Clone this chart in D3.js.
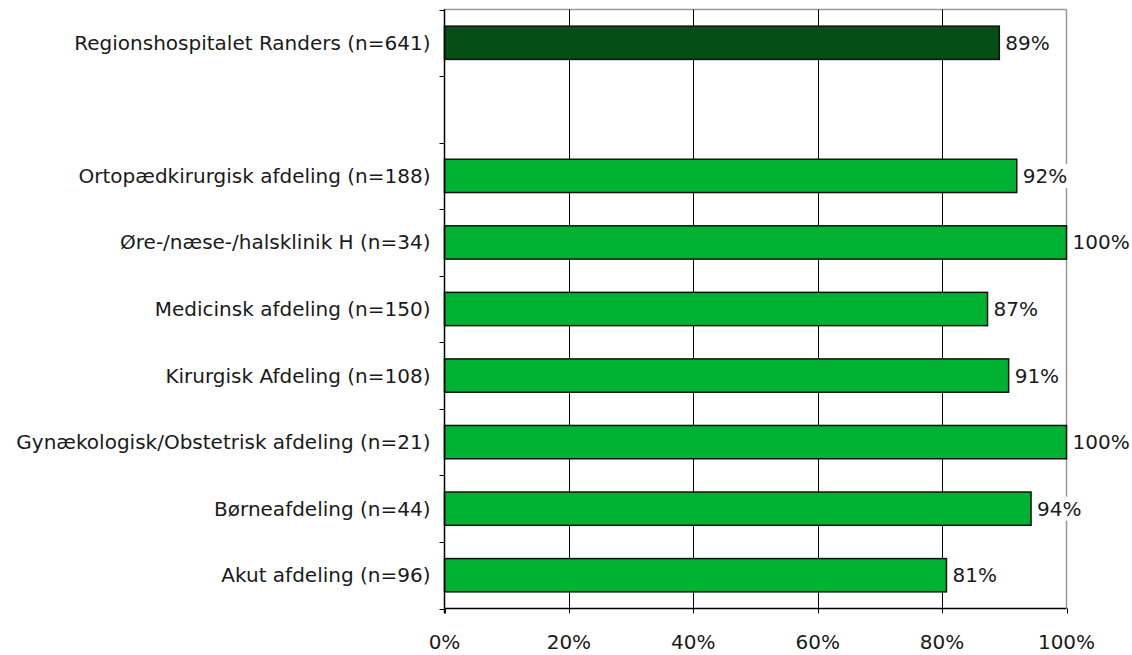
<!DOCTYPE html>
<html><head><meta charset="utf-8">
<script src="https://cdn.jsdelivr.net/npm/d3@7"></script>
<style>body{margin:0;background:#fff}svg{display:block}text{font-family:"DejaVu Sans",sans-serif;fill:#1a1a1a}</style>
</head><body><svg id="c" width="1132" height="655"></svg>
<script>
const categories = ["Regionshospitalet Randers (n=641)", "", "Ortopædkirurgisk afdeling (n=188)", "Øre-/næse-/halsklinik H (n=34)", "Medicinsk afdeling (n=150)", "Kirurgisk Afdeling (n=108)", "Gynækologisk/Obstetrisk afdeling (n=21)", "Børneafdeling (n=44)", "Akut afdeling (n=96)"];
const values = [89.2, null, 92.0, 100, 87.3, 90.7, 100, 94.3, 80.7];
const valueLabels = ["89%", "", "92%", "100%", "87%", "91%", "100%", "94%", "81%"];
const tickValues = [0, 20, 40, 60, 80, 100];
const tickLabels = ["0%", "20%", "40%", "60%", "80%", "100%"];
const isTotal = [true, false, false, false, false, false, false, false, false];

const svg = d3.select("#c");
const L = 444.5, R = 1066.5, T = 9.5, B = 608.5;
const x = d3.scaleLinear().domain([0, 100]).range([L, R]);
const keys = categories.map((c, i) => i);
const y = d3.scaleBand().domain(keys).range([T, B]).paddingInner(0.5).paddingOuter(0.25);
const yOuter = d3.scaleBand().domain(keys).range([T, B]);
const FS = "20px";

// top and right border (gray)
svg.append("line").attr("x1", L).attr("x2", R).attr("y1", T).attr("y2", T).attr("stroke", "#999").attr("stroke-width", 1.5);
svg.append("line").attr("x1", R).attr("x2", R).attr("y1", T).attr("y2", B).attr("stroke", "#999").attr("stroke-width", 1.5);

// gridlines
svg.append("g").selectAll("line").data(tickValues.filter(v => v > 0 && v < 100)).join("line")
  .attr("x1", d => Math.round(x(d)) + 0.5).attr("x2", d => Math.round(x(d)) + 0.5)
  .attr("y1", T).attr("y2", B).attr("stroke", "#000").attr("stroke-width", 1);

// bars
const rows = keys.filter(i => values[i] != null);
svg.append("g").selectAll("rect").data(rows).join("rect")
  .attr("x", x(0)).attr("y", i => y(i))
  .attr("width", i => x(values[i]) - x(0)).attr("height", y.bandwidth())
  .attr("fill", i => isTotal[i] ? "#034f16" : "#00b232")
  .attr("stroke", "#111").attr("stroke-width", 1.5);

// value labels with white background
const vl = svg.append("g").selectAll("g").data(rows).join("g")
  .attr("transform", i => `translate(${x(values[i]) + 5},${y(i) + y.bandwidth() / 2})`);
const bg = vl.append("rect").attr("x", 0).attr("y", -12).attr("height", 24).attr("fill", "#fff");
const vt = vl.append("text").attr("x", 1).attr("dy", "0.35em").style("font-size", FS).text(i => valueLabels[i]);
vt.each(function (d) {
  const w = this.getComputedTextLength();
  d3.select(this.parentNode).select("rect").attr("width", w + 2);
});

// left axis
const yAxis = svg.append("g");
yAxis.append("line").attr("x1", L).attr("x2", L).attr("y1", T - 0.5).attr("y2", B + 5).attr("stroke", "#000").attr("stroke-width", 1.5);
const bounds = keys.map(i => yOuter(i)).concat([B]);
yAxis.selectAll("line.t").data(bounds).join("line").attr("class", "t")
  .attr("x1", L - 5).attr("x2", L).attr("y1", d => Math.round(d) + 0.5).attr("y2", d => Math.round(d) + 0.5)
  .attr("stroke", "#000").attr("stroke-width", 1);
yAxis.selectAll("text").data(keys).join("text")
  .attr("x", L - 14).attr("y", i => y(i) + y.bandwidth() / 2).attr("dy", "0.35em")
  .attr("text-anchor", "end").style("font-size", FS).text(i => categories[i]);

// bottom axis
const xAxis = svg.append("g");
xAxis.append("line").attr("x1", L).attr("x2", R).attr("y1", B).attr("y2", B).attr("stroke", "#000").attr("stroke-width", 1.5);
xAxis.selectAll("line.t").data(tickValues).join("line").attr("class", "t")
  .attr("x1", d => Math.round(x(d)) + 0.5).attr("x2", d => Math.round(x(d)) + 0.5)
  .attr("y1", B).attr("y2", B + 5).attr("stroke", "#000").attr("stroke-width", 1);
xAxis.selectAll("text").data(tickValues).join("text")
  .attr("x", d => x(d)).attr("y", 642).attr("dy", "0.35em").attr("text-anchor", "middle")
  .style("font-size", FS).text((d, i) => tickLabels[i]);
</script></body></html>
